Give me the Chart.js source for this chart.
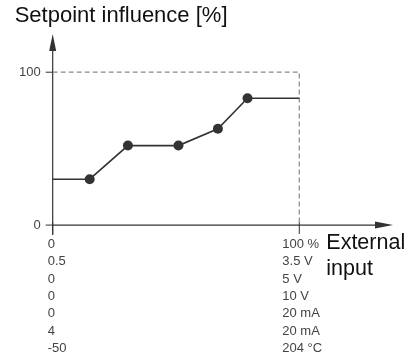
<!DOCTYPE html>
<html>
<head>
<meta charset="utf-8">
<script src="https://cdn.jsdelivr.net/npm/chart.js@4"></script>
<style>
  html, body { margin: 0; padding: 0; background: #fff; }
  #wrap { width: 411px; height: 356px; position: relative; }
</style>
</head>
<body>
<div id="wrap"><canvas id="c"></canvas></div>
<script>
// ---- data ----
const inputPct     = [0, 15, 30.5, 51, 67, 79, 100];   // external input, % of range
const influencePct = [30, 30, 52, 52, 63, 83, 83];     // setpoint influence, %
const limitX = [0, 100, 100];                           // dashed 100 % frame
const limitY = [100, 100, 0];
const yTickValues = [0, 100];
const xTickValues = [0, 100];
const minLabels = ['0', '0.5', '0', '0', '0', '4', '-50'];
const maxLabels = ['100 %', '3.5 V', '5 V', '10 V', '20 mA', '20 mA', '204 \u00B0C'];
const yTitle = 'Setpoint influence [%]';
const xTitle = ['External', 'input'];

const FONT = "'Liberation Sans', Arial, Helvetica, sans-serif";
const AXIS = '#333333';

const axesPlugin = {
  id: 'axesPlugin',
  beforeDatasetsDraw(chart) {
    const { ctx, chartArea, scales } = chart;
    const xs = scales.x, ys = scales.y;
    const x0 = xs.getPixelForValue(0);
    const y0 = ys.getPixelForValue(0);
    ctx.save();
    ctx.strokeStyle = AXIS;
    ctx.fillStyle = AXIS;
    ctx.lineWidth = 1.2;
    // y axis with arrow
    ctx.beginPath();
    ctx.moveTo(x0, chartArea.bottom);
    ctx.lineTo(x0, chartArea.top + 10);
    ctx.stroke();
    ctx.beginPath();
    ctx.moveTo(x0, chartArea.top);
    ctx.lineTo(x0 - 3.5, chartArea.top + 17);
    ctx.lineTo(x0 + 3.5, chartArea.top + 17);
    ctx.closePath();
    ctx.fill();
    // x axis with arrow
    ctx.beginPath();
    ctx.moveTo(x0, y0);
    ctx.lineTo(chartArea.right - 10, y0);
    ctx.stroke();
    ctx.beginPath();
    ctx.moveTo(chartArea.right, y0);
    ctx.lineTo(chartArea.right - 18, y0 - 3.5);
    ctx.lineTo(chartArea.right - 18, y0 + 3.5);
    ctx.closePath();
    ctx.fill();
    // y tick marks
    ctx.lineWidth = 1;
    yTickValues.forEach(v => {
      const py = ys.getPixelForValue(v);
      ctx.beginPath();
      ctx.moveTo(x0 - 7, py);
      ctx.lineTo(x0, py);
      ctx.stroke();
    });
    // x tick marks (below axis)
    xTickValues.forEach(v => {
      const px = xs.getPixelForValue(v);
      ctx.beginPath();
      ctx.moveTo(px, y0 - 3);
      ctx.lineTo(px, chartArea.bottom - 1);
      ctx.stroke();
    });
    ctx.restore();
  },
  afterDraw(chart) {
    const { ctx, chartArea, scales } = chart;
    const xs = scales.x, ys = scales.y;
    const x0 = xs.getPixelForValue(0);
    const x100 = xs.getPixelForValue(100);
    const y0 = ys.getPixelForValue(0);
    ctx.save();
    // title
    ctx.fillStyle = '#111111';
    ctx.textBaseline = 'alphabetic';
    ctx.textAlign = 'left';
    ctx.font = '22px ' + FONT;
    ctx.fillText(yTitle, x0 - 38, chartArea.top - 12);
    // x axis title
    ctx.font = '21.5px ' + FONT;
    xTitle.forEach((t, i) => {
      ctx.fillText(t, x100 + 27, y0 + 24 + i * 26);
    });
    // range table
    ctx.fillStyle = '#444444';
    ctx.font = '13px ' + FONT;
    minLabels.forEach((t, i) => {
      ctx.fillText(t, x0 - 5, y0 + 23 + i * 17.3);
    });
    maxLabels.forEach((t, i) => {
      ctx.fillText(t, x100 - 17, y0 + 23 + i * 17.3);
    });
    ctx.restore();
  }
};

new Chart(document.getElementById('c'), {
  type: 'line',
  data: {
    datasets: [
      {
        label: 'Setpoint influence',
        data: inputPct.map((x, i) => ({ x, y: influencePct[i] })),
        borderColor: '#333333',
        backgroundColor: '#333333',
        borderWidth: 1.6,
        pointRadius: ctx => (ctx.dataIndex === 0 || ctx.dataIndex === inputPct.length - 1) ? 0 : 5,
        pointBackgroundColor: '#333333',
        pointBorderWidth: 0,
        tension: 0,
        fill: false
      },
      {
        label: 'Limit',
        data: limitX.map((x, i) => ({ x, y: limitY[i] })),
        borderColor: '#8a8a8a',
        borderWidth: 1.2,
        borderDash: [5, 3],
        pointRadius: 0,
        fill: false,
        tension: 0
      }
    ]
  },
  options: {
    responsive: true,
    maintainAspectRatio: false,
    animation: false,
    events: [],
    layout: { padding: { left: 7, right: 18, top: 34, bottom: 121 } },
    plugins: { legend: { display: false }, tooltip: { enabled: false }, title: { display: false } },
    scales: {
      x: {
        type: 'linear',
        min: 0,
        max: 138,
        display: false
      },
      y: {
        type: 'linear',
        min: -6.5,
        max: 125,
        afterBuildTicks: s => { s.ticks = yTickValues.map(v => ({ value: v })); },
        grid: { display: false, drawTicks: false },
        border: { display: false },
        ticks: {
          padding: 12,
          color: '#444444',
          font: { family: FONT, size: 13 },
          callback: v => String(v)
        }
      }
    }
  },
  plugins: [axesPlugin]
});
</script>
</body>
</html>
